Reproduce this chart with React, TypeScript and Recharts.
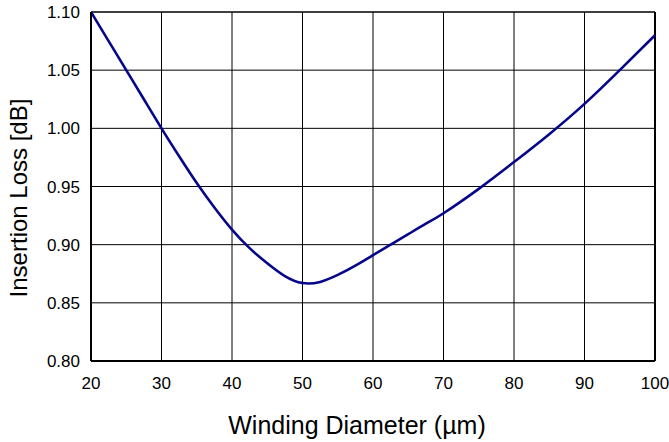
import {
  CartesianGrid,
  Label,
  Line,
  LineChart,
  ReferenceLine,
  XAxis,
  YAxis,
} from 'recharts'

// Diámetro de bobinado (µm) y pérdida de inserción (dB).
const DIAMETERS = [20, 22.5, 25, 27.5, 30, 32.5, 35, 37.5, 40, 42.5, 45, 47.5, 50, 52.5, 55, 57.5, 60, 62.5, 65, 67.5, 70, 75, 80, 85, 90, 95, 100]
const LOSS = [1.1, 1.075, 1.05, 1.025, 1.0, 0.976, 0.953, 0.932, 0.913, 0.897, 0.884, 0.873, 0.867, 0.868, 0.874, 0.882, 0.891, 0.9, 0.909, 0.918, 0.927, 0.948, 0.971, 0.995, 1.021, 1.05, 1.08]

const X_TICKS = [20, 30, 40, 50, 60, 70, 80, 90, 100]
const Y_TICKS = [0.8, 0.85, 0.9, 0.95, 1.0, 1.05, 1.1]

const FONT = '"Liberation Sans", Arial, sans-serif'
const LINE_COLOR = '#06068a'

const data = DIAMETERS.map((d, i) => ({ d, loss: LOSS[i] }))

export default function App() {
  return (
    <div style={{ position: 'fixed', left: 0, top: 0, background: '#fff' }}>
      <LineChart
        width={669}
        height={442}
        data={data}
        margin={{ top: 12, right: 14, bottom: 0, left: 0 }}
        style={{ fontFamily: FONT }}
      >
        <CartesianGrid stroke="#000" strokeWidth={1} />
        <XAxis
          dataKey="d"
          type="number"
          domain={[20, 100]}
          ticks={X_TICKS}
          height={81}
          tickLine={false}
          tickSize={0}
          tickMargin={16}
          axisLine={{ stroke: '#000', strokeWidth: 2 }}
          tick={{ fill: '#000', fontSize: 17 }}
        >
          <Label
            content={() => (
              <text x={357} y={434} textAnchor="middle" fontSize={25} fill="#000" fontFamily={FONT}>
                Winding Diameter (µm)
              </text>
            )}
          />
        </XAxis>
        <YAxis
          type="number"
          domain={[0.8, 1.1]}
          ticks={Y_TICKS}
          width={91}
          tickLine={false}
          tickSize={0}
          tickMargin={11}
          axisLine={{ stroke: '#000', strokeWidth: 2 }}
          tick={{ fill: '#000', fontSize: 17 }}
          tickFormatter={(v: number) => v.toFixed(2)}
        >
          <Label
            content={() => (
              <text
                x={18}
                y={198}
                transform="rotate(-90 18 198)"
                textAnchor="middle"
                dominantBaseline="central"
                fontSize={24}
                fill="#000"
                fontFamily={FONT}
              >
                Insertion Loss [dB]
              </text>
            )}
          />
        </YAxis>
        <ReferenceLine x={100} stroke="#000" strokeWidth={2} />
        <ReferenceLine y={1.1} stroke="#000" strokeWidth={1} />
        <Line
          dataKey="loss"
          type="natural"
          stroke={LINE_COLOR}
          strokeWidth={2.6}
          dot={false}
          isAnimationActive={false}
        />
      </LineChart>
    </div>
  )
}
